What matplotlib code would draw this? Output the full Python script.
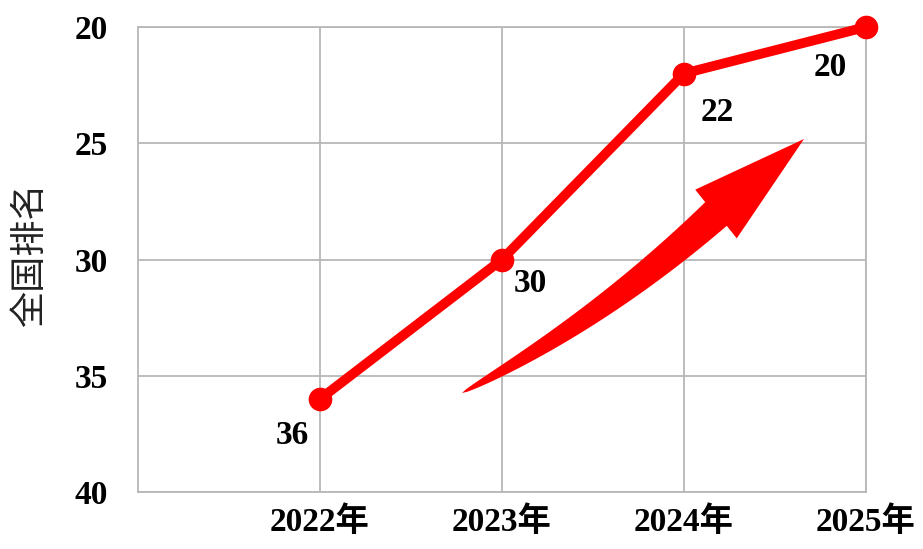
import numpy as np
import matplotlib
matplotlib.use("Agg")
import matplotlib.pyplot as plt
from matplotlib.patches import Polygon
from matplotlib.transforms import IdentityTransform

# data
years = ["2022年", "2023年", "2024年", "2025年"]
ranks = [36, 30, 22, 20]
yticks = [20, 25, 30, 35, 40]

# label offsets (pixels) for each point
label_offsets = [(-28, -36), (28, -24), (33, -39), (-36, -40)]

W, H = 923, 549
fig = plt.figure(figsize=(W / 100, H / 100), dpi=100)
ax = fig.add_axes([138 / W, (H - 492) / H, 728 / W, 465 / H])

serif = ["Liberation Serif", "Noto Sans CJK SC"]
grid_c = "#b7b7b7"

x = np.arange(1, len(years) + 1)
ax.set_xlim(0, len(years))
ax.set_ylim(40, 20)
ax.set_xticks(x)
ax.set_xticklabels(years, family=serif, fontweight="bold", fontsize=24)
ax.set_yticks(yticks)
ax.set_yticklabels([str(v) for v in yticks], family=serif, fontweight="bold", fontsize=24)
ax.tick_params(axis="both", length=0)
ax.tick_params(axis="y", pad=22)
ax.tick_params(axis="x", pad=10)
ax.grid(True, color=grid_c, linewidth=1.3)
ax.set_axisbelow(True)
for s in ax.spines.values():
    s.set_color(grid_c)
    s.set_linewidth(1.3)

ax.set_ylabel("全国排名", family="Noto Sans CJK SC", fontweight="light", fontsize=26, color="#222222")
ax.yaxis.set_label_coords(-0.124, 0.51)

ax.plot(x, ranks, color="#ff0000", linewidth=7, marker="o", markersize=16,
        solid_capstyle="round", zorder=3, clip_on=False)

for xi, r, off in zip(x, ranks, label_offsets):
    ax.annotate(str(r), (xi, r), xytext=off, textcoords="offset pixels",
                ha="center", va="center", family=serif, fontweight="bold", fontsize=24)

# curved tapered arrow (drawn in pixel space, y from top)
p0 = np.array([462.0, 393.0])
p1 = np.array([600.0, 320.0])
p2 = np.array([716.0, 214.0])
tip = np.array([804.0, 139.0])
t = np.linspace(0, 1, 60)
curve = ((1 - t) ** 2)[:, None] * p0 + (2 * (1 - t) * t)[:, None] * p1 + (t ** 2)[:, None] * p2
d = np.gradient(curve, axis=0)
d /= np.linalg.norm(d, axis=1)[:, None]
nrm = np.column_stack([d[:, 1], -d[:, 0]])
half = 16 * t ** 0.6
upper = curve + nrm * half[:, None]
lower = curve - nrm * half[:, None]
hd = (tip - p2) / np.linalg.norm(tip - p2)
hn = np.array([hd[1], -hd[0]])
head = [p2 + hn * 32, tip, p2 - hn * 32]
pts = np.vstack([upper, [upper[-1]], head, lower[::-1]])
pts_disp = np.column_stack([pts[:, 0], H - pts[:, 1]])
arrow = Polygon(pts_disp, closed=True, facecolor="#ff0000", edgecolor="none",
                transform=IdentityTransform(), zorder=2)
fig.patches.append(arrow)
arrow.set_figure(fig)

fig.savefig("out.png", dpi=100)
